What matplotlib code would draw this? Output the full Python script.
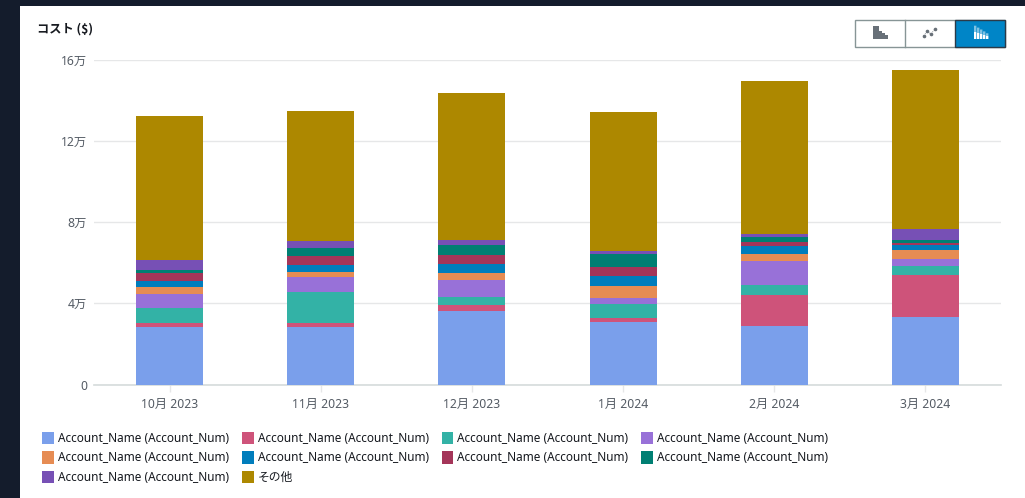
import matplotlib
matplotlib.use("Agg")
import matplotlib.pyplot as plt
from matplotlib.patches import Rectangle

plt.rcParams['font.family'] = ['Noto Sans', 'Noto Sans CJK JP', 'DejaVu Sans']

months = ["10月 2023", "11月 2023", "12月 2023", "1月 2024", "2月 2024", "3月 2024"]
y_ticks = [0, 40000, 80000, 120000, 160000]
y_labels = ["0", "4万", "8万", "12万", "16万"]
labels = ["Account_Name (Account_Num)"] * 9 + ["その他"]
colors = ["#7A9FEB", "#CE537A", "#33B2A6", "#9871D8", "#E68C53",
          "#007DBC", "#A43559", "#007F73", "#7750B5", "#AD8800"]

s1 = [28400, 28300, 36300, 30900, 28600, 33200]
s2 = [2000, 2100, 3100, 2100, 15300, 20900]
s3 = [7200, 15000, 3800, 6900, 5300, 4100]
s4 = [6900, 7700, 8500, 2800, 11500, 3600]
s5 = [3600, 2500, 3500, 5900, 3800, 4300]
s6 = [3100, 3100, 4400, 5100, 3900, 2800]
s7 = [3600, 4900, 4400, 4300, 2000, 800]
s8 = [1600, 3500, 4600, 6100, 2100, 1500]
s9 = [4900, 3800, 2800, 1500, 1800, 5400]
s10 = [71000, 64100, 72100, 68600, 75400, 78600]
series = [s1, s2, s3, s4, s5, s6, s7, s8, s9, s10]

W, H = 1025, 498
fig = plt.figure(figsize=(W / 100, H / 100), dpi=100, facecolor="#141C2C")

# page panel and header controls, in pixel coordinates
bg = fig.add_axes([0, 0, 1, 1], zorder=0)
bg.set_xlim(0, W)
bg.set_ylim(H, 0)
bg.axis("off")
bg.add_patch(Rectangle((20, 6), W - 20, H - 6, fc="white", ec="none"))
bg.text(37, 29, "コスト ($)", fontsize=8.8, fontweight="bold", color="#16191f",
        va="center", ha="left", family=["Noto Sans CJK JP", "DejaVu Sans"])

bg.add_patch(Rectangle((855, 19.5), 150, 27, fc="white", ec="#879596", lw=1))
bg.add_patch(Rectangle((955, 19.5), 50, 27, fc="#0085C7", ec="#2b3a48", lw=1))
bg.plot([905, 905], [19.5, 46.5], color="#879596", lw=1)
for x, h in zip([873, 876, 879, 882, 885], [13, 13, 8, 6, 4]):
    bg.add_patch(Rectangle((x, 39 - h), 3, h, fc="#687078", ec="none", snap=False))
line_x = [924, 927, 931, 935]
line_y = [36, 31, 34, 29]
bg.plot(line_x, line_y, color="#687078", lw=0.6, ls=":", marker="o", ms=1.6)
for x, h in zip([974, 977, 980, 983, 986], [7, 6, 5, 4, 3]):
    bg.add_patch(Rectangle((x, 39 - h), 2.4, h, fc="white", ec="none", snap=False))
    bg.add_patch(Rectangle((x, 39 - h * 1.9), 2.4, h * 0.9, fc="#7fc2e3", ec="none", snap=False))

# chart
ax = fig.add_axes([94 / W, 1 - 384.5 / H, (1001 - 94) / W, (384.5 - 60) / H], zorder=1)
ax.patch.set_alpha(0)
pos = list(range(len(months)))
bottom = [0] * len(months)
handles = []
for vals, col, lab in zip(series, colors, labels):
    b = ax.bar(pos, vals, width=0.443, bottom=bottom, color=col, label=lab, linewidth=0, zorder=3)
    handles.append(b)
    bottom = [a + v for a, v in zip(bottom, vals)]

ax.set_xlim(-0.5, 5.5)
ax.set_ylim(0, 160000)
ax.set_yticks(y_ticks, y_labels)
ax.set_xticks(pos, months)
ax.grid(axis="y", color="#E6E7E8", lw=1, zorder=0)
ax.set_axisbelow(True)
for side in ["top", "right", "left"]:
    ax.spines[side].set_visible(False)
ax.spines["bottom"].set_color("#D5DBDB")
ax.spines["bottom"].set_linewidth(1.2)
ax.tick_params(axis="y", length=0, pad=5, labelsize=8.8, labelcolor="#545B64")
ax.tick_params(axis="x", length=5, width=1, color="#E6E7E8", pad=5, labelsize=8.8, labelcolor="#545B64")

# legend reads row by row in the reference; matplotlib fills column by column
order = [0, 4, 8, 1, 5, 9, 2, 6, 3, 7]
leg = fig.legend(handles=[handles[i] for i in order], labels=[labels[i] for i in order],
                 ncols=4, loc="upper left",
                 bbox_to_anchor=(38.5 / W, 1 - 428.5 / H), bbox_transform=fig.transFigure,
                 frameon=False, fontsize=8.5, labelcolor="#16191f",
                 handlelength=1.0, handleheight=1.2, handletextpad=0.34,
                 columnspacing=1.1, labelspacing=0.54, borderpad=0.3, borderaxespad=0)

fig.savefig("out.png", dpi=100, facecolor=fig.get_facecolor())
